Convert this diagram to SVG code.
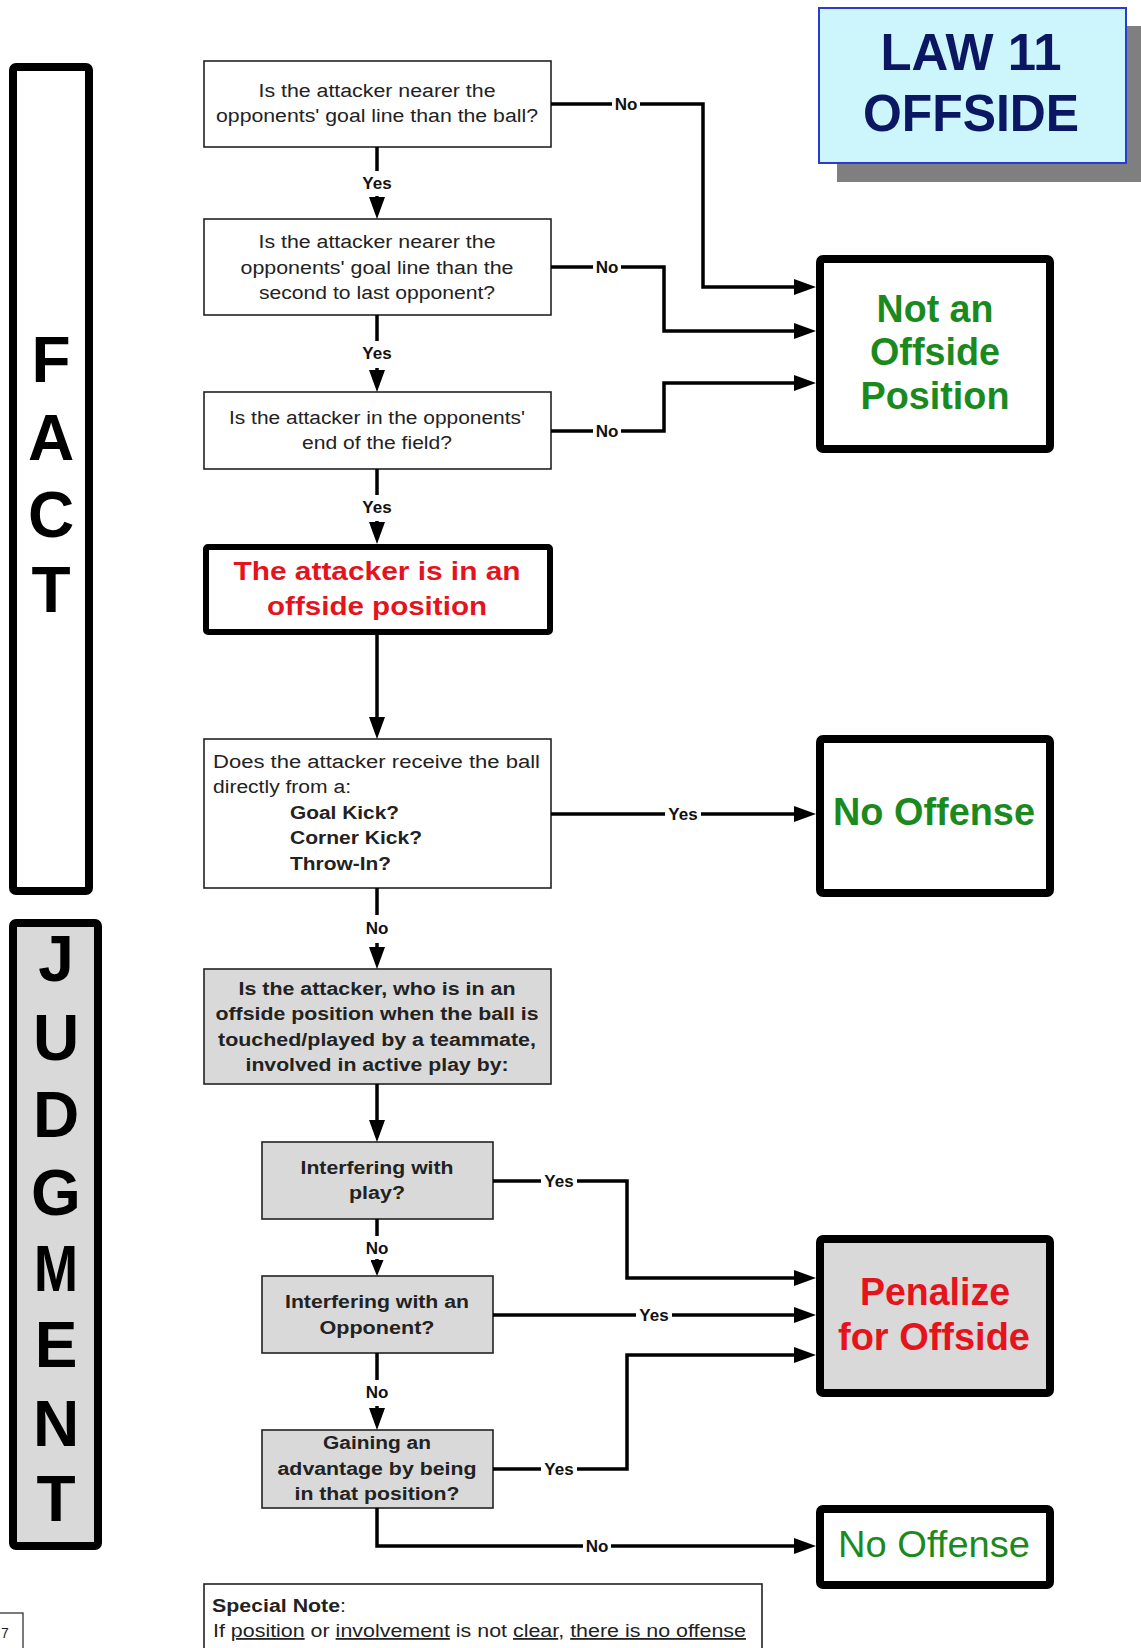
<svg xmlns="http://www.w3.org/2000/svg" width="1141" height="1648" viewBox="0 0 1141 1648">
<style>
text{font-family:"Liberation Sans",Arial,sans-serif}
.q{fill:#fff;stroke:#222;stroke-width:1.6}
.qg{fill:#d9d9d9;stroke:#222;stroke-width:1.6}
.thick{fill:#fff;stroke:#000;stroke-width:8}
.t{font-size:18px;fill:#222;text-anchor:middle}
.tl{font-size:18px;fill:#222}
.b{font-weight:bold}
.lbl{font-size:17px;font-weight:bold;fill:#111;text-anchor:middle}
.big{font-size:64px;font-weight:bold;fill:#000;text-anchor:middle}
.res{font-size:38px;font-weight:bold;text-anchor:middle}
.green{fill:#1b8a1e}
.red{fill:#e5141c}
.con{stroke:#000;stroke-width:3.5;fill:none}
</style>
<defs>
<marker id="ah" markerUnits="userSpaceOnUse" markerWidth="22" markerHeight="16" refX="12" refY="8" orient="auto"><path d="M0,0 L22,8 L0,16 z" fill="#000"/></marker>
<marker id="ahs" markerUnits="userSpaceOnUse" markerWidth="16" markerHeight="13" refX="8" refY="6.5" orient="auto"><path d="M0,0 L16,6.5 L0,13 z" fill="#000"/></marker>
</defs>

<g id="fact-band">
<rect class="thick" x="13" y="67" width="76" height="824" rx="3"/>
<text class="big" x="51" y="382">F</text>
<text class="big" x="51" y="460">A</text>
<text class="big" x="51" y="537">C</text>
<text class="big" x="51" y="612">T</text>
</g>

<g id="judgment-band">
<rect x="13" y="923" width="85" height="623" rx="3" fill="#d9d9d9" stroke="#000" stroke-width="8"/>
<text class="big" x="56" y="981">J</text>
<text class="big" x="56" y="1060">U</text>
<text class="big" x="56" y="1137">D</text>
<text class="big" x="56" y="1215">G</text>
<text class="big" x="56" y="1291" textLength="44" lengthAdjust="spacingAndGlyphs">M</text>
<text class="big" x="56" y="1367">E</text>
<text class="big" x="56" y="1446">N</text>
<text class="big" x="56" y="1521">T</text>
</g>

<g id="title">
<rect x="837" y="26" width="310" height="156" fill="#7f7f7f"/>
<rect x="819" y="8" width="307" height="155" fill="#ccf6fc" stroke="#2a3bd0" stroke-width="2"/>
<text x="971" y="70" font-size="52" font-weight="bold" fill="#0b1762" text-anchor="middle" textLength="181" lengthAdjust="spacingAndGlyphs">LAW 11</text>
<text x="971" y="131" font-size="52" font-weight="bold" fill="#0b1762" text-anchor="middle" textLength="216" lengthAdjust="spacingAndGlyphs">OFFSIDE</text>
</g>

<g id="q1">
<rect class="q" x="204" y="61" width="347" height="86"/>
<text class="t" x="377" y="97" textLength="237" lengthAdjust="spacingAndGlyphs">Is the attacker nearer the</text>
<text class="t" x="377" y="122" textLength="322" lengthAdjust="spacingAndGlyphs">opponents' goal line than the ball?</text>
</g>

<g id="q2">
<rect class="q" x="204" y="219" width="347" height="96"/>
<text class="t" x="377" y="248" textLength="237" lengthAdjust="spacingAndGlyphs">Is the attacker nearer the</text>
<text class="t" x="377" y="274" textLength="273" lengthAdjust="spacingAndGlyphs">opponents' goal line than the</text>
<text class="t" x="377" y="299" textLength="236" lengthAdjust="spacingAndGlyphs">second to last opponent?</text>
</g>

<g id="q3">
<rect class="q" x="204" y="392" width="347" height="77"/>
<text class="t" x="377" y="424" textLength="296" lengthAdjust="spacingAndGlyphs">Is the attacker in the opponents'</text>
<text class="t" x="377" y="449" textLength="150" lengthAdjust="spacingAndGlyphs">end of the field?</text>
</g>

<g id="offside-position">
<rect x="206" y="547" width="344" height="85" fill="#fff" stroke="#000" stroke-width="6" rx="2"/>
<text class="red" x="377" y="580" font-size="25" font-weight="bold" text-anchor="middle" textLength="287" lengthAdjust="spacingAndGlyphs">The attacker is in an</text>
<text class="red" x="377" y="615" font-size="25" font-weight="bold" text-anchor="middle" textLength="220" lengthAdjust="spacingAndGlyphs">offside position</text>
</g>

<g id="q4">
<rect class="q" x="204" y="739" width="347" height="149"/>
<text class="tl" x="213" y="768" textLength="327" lengthAdjust="spacingAndGlyphs">Does the attacker receive the ball</text>
<text class="tl" x="213" y="793" textLength="138" lengthAdjust="spacingAndGlyphs">directly from a:</text>
<text class="tl b" x="290" y="819" textLength="109" lengthAdjust="spacingAndGlyphs">Goal Kick?</text>
<text class="tl b" x="290" y="844" textLength="132" lengthAdjust="spacingAndGlyphs">Corner Kick?</text>
<text class="tl b" x="290" y="870" textLength="101" lengthAdjust="spacingAndGlyphs">Throw-In?</text>
</g>

<g id="q5">
<rect class="qg" x="204" y="969" width="347" height="115"/>
<text class="t b" x="377" y="995" textLength="277" lengthAdjust="spacingAndGlyphs">Is the attacker, who is in an</text>
<text class="t b" x="377" y="1020" textLength="323" lengthAdjust="spacingAndGlyphs">offside position when the ball is</text>
<text class="t b" x="377" y="1046" textLength="318" lengthAdjust="spacingAndGlyphs">touched/played by a teammate,</text>
<text class="t b" x="377" y="1071" textLength="263" lengthAdjust="spacingAndGlyphs">involved in active play by:</text>
</g>

<g id="q6">
<rect class="qg" x="262" y="1142" width="231" height="77"/>
<text class="t b" x="377" y="1174" textLength="153" lengthAdjust="spacingAndGlyphs">Interfering with</text>
<text class="t b" x="377" y="1199" textLength="56" lengthAdjust="spacingAndGlyphs">play?</text>
</g>

<g id="q7">
<rect class="qg" x="262" y="1276" width="231" height="77"/>
<text class="t b" x="377" y="1308" textLength="184" lengthAdjust="spacingAndGlyphs">Interfering with an</text>
<text class="t b" x="377" y="1334" textLength="115" lengthAdjust="spacingAndGlyphs">Opponent?</text>
</g>

<g id="q8">
<rect class="qg" x="262" y="1430" width="231" height="78"/>
<text class="t b" x="377" y="1449" textLength="108" lengthAdjust="spacingAndGlyphs">Gaining an</text>
<text class="t b" x="377" y="1475" textLength="199" lengthAdjust="spacingAndGlyphs">advantage by being</text>
<text class="t b" x="377" y="1500" textLength="165" lengthAdjust="spacingAndGlyphs">in that position?</text>
</g>

<g id="not-offside">
<rect class="thick" x="820" y="259" width="230" height="190" rx="3"/>
<text class="res green" x="935" y="322" font-size="40" textLength="117" lengthAdjust="spacingAndGlyphs">Not an</text>
<text class="res green" x="935" y="365" font-size="40" textLength="130" lengthAdjust="spacingAndGlyphs">Offside</text>
<text class="res green" x="935" y="409" font-size="40" textLength="149" lengthAdjust="spacingAndGlyphs">Position</text>
</g>

<g id="no-offense-1">
<rect class="thick" x="820" y="739" width="230" height="154" rx="3"/>
<text class="res green" x="934" y="825" textLength="202" lengthAdjust="spacingAndGlyphs">No Offense</text>
</g>

<g id="penalize">
<rect x="820" y="1239" width="230" height="154" rx="3" fill="#d9d9d9" stroke="#000" stroke-width="8"/>
<text class="res red" x="935" y="1305" textLength="150" lengthAdjust="spacingAndGlyphs">Penalize</text>
<text class="res red" x="934" y="1350" textLength="192" lengthAdjust="spacingAndGlyphs">for Offside</text>
</g>

<g id="no-offense-2">
<rect class="thick" x="820" y="1509" width="230" height="76" rx="3"/>
<text class="green" x="934" y="1557" font-size="37" text-anchor="middle" textLength="192" lengthAdjust="spacingAndGlyphs">No Offense</text>
</g>

<g id="special-note">
<rect x="204" y="1584" width="558" height="80" fill="#fff" stroke="#222" stroke-width="1.6"/>
<text class="tl" x="212" y="1612" textLength="134" lengthAdjust="spacingAndGlyphs"><tspan font-weight="bold">Special Note</tspan>:</text>
<text class="tl" x="213" y="1637" textLength="533" lengthAdjust="spacingAndGlyphs">If <tspan text-decoration="underline">position</tspan> or <tspan text-decoration="underline">involvement</tspan> is not <tspan text-decoration="underline">clear</tspan>, <tspan text-decoration="underline">there is no offense</tspan></text>
</g>

<g id="page-number">
<rect x="-2" y="1613" width="25" height="40" fill="#fff" stroke="#222" stroke-width="1.2"/>
<text x="1" y="1638" font-size="14" fill="#222">7</text>
</g>

<g id="connectors">
<path class="con" d="M377,147 V171"/>
<path class="con" d="M377,196 V209" marker-end="url(#ah)"/>
<text class="lbl" x="377" y="189">Yes</text>

<path class="con" d="M377,315 V341"/>
<path class="con" d="M377,368 V382" marker-end="url(#ah)"/>
<text class="lbl" x="377" y="359">Yes</text>

<path class="con" d="M377,469 V495"/>
<path class="con" d="M377,521 V534" marker-end="url(#ah)"/>
<text class="lbl" x="377" y="513">Yes</text>

<path class="con" d="M377,635 V729" marker-end="url(#ah)"/>

<path class="con" d="M377,888 V915"/>
<path class="con" d="M377,943 V959" marker-end="url(#ah)"/>
<text class="lbl" x="377" y="934">No</text>

<path class="con" d="M377,1084 V1132" marker-end="url(#ah)"/>

<path class="con" d="M377,1219 V1236"/>
<path class="con" d="M377,1259 V1268" marker-end="url(#ahs)"/>
<text class="lbl" x="377" y="1254">No</text>

<path class="con" d="M377,1353 V1380"/>
<path class="con" d="M377,1406 V1420" marker-end="url(#ah)"/>
<text class="lbl" x="377" y="1398">No</text>

<path class="con" d="M377,1508 V1546 H583"/>
<path class="con" d="M611,1546 H806" marker-end="url(#ah)"/>
<text class="lbl" x="597" y="1552">No</text>

<path class="con" d="M551,104 H612"/>
<path class="con" d="M640,104 H703 V287 H806" marker-end="url(#ah)"/>
<text class="lbl" x="626" y="110">No</text>

<path class="con" d="M551,267 H593"/>
<path class="con" d="M621,267 H664 V331 H806" marker-end="url(#ah)"/>
<text class="lbl" x="607" y="273">No</text>

<path class="con" d="M551,431 H593"/>
<path class="con" d="M621,431 H664 V383 H806" marker-end="url(#ah)"/>
<text class="lbl" x="607" y="437">No</text>

<path class="con" d="M551,814 H665"/>
<path class="con" d="M701,814 H806" marker-end="url(#ah)"/>
<text class="lbl" x="683" y="820">Yes</text>

<path class="con" d="M493,1181 H541"/>
<path class="con" d="M577,1181 H627 V1278 H806" marker-end="url(#ah)"/>
<text class="lbl" x="559" y="1187">Yes</text>

<path class="con" d="M493,1315 H636"/>
<path class="con" d="M672,1315 H806" marker-end="url(#ah)"/>
<text class="lbl" x="654" y="1321">Yes</text>

<path class="con" d="M493,1469 H541"/>
<path class="con" d="M577,1469 H627 V1355 H806" marker-end="url(#ah)"/>
<text class="lbl" x="559" y="1475">Yes</text>
</g>
</svg>
